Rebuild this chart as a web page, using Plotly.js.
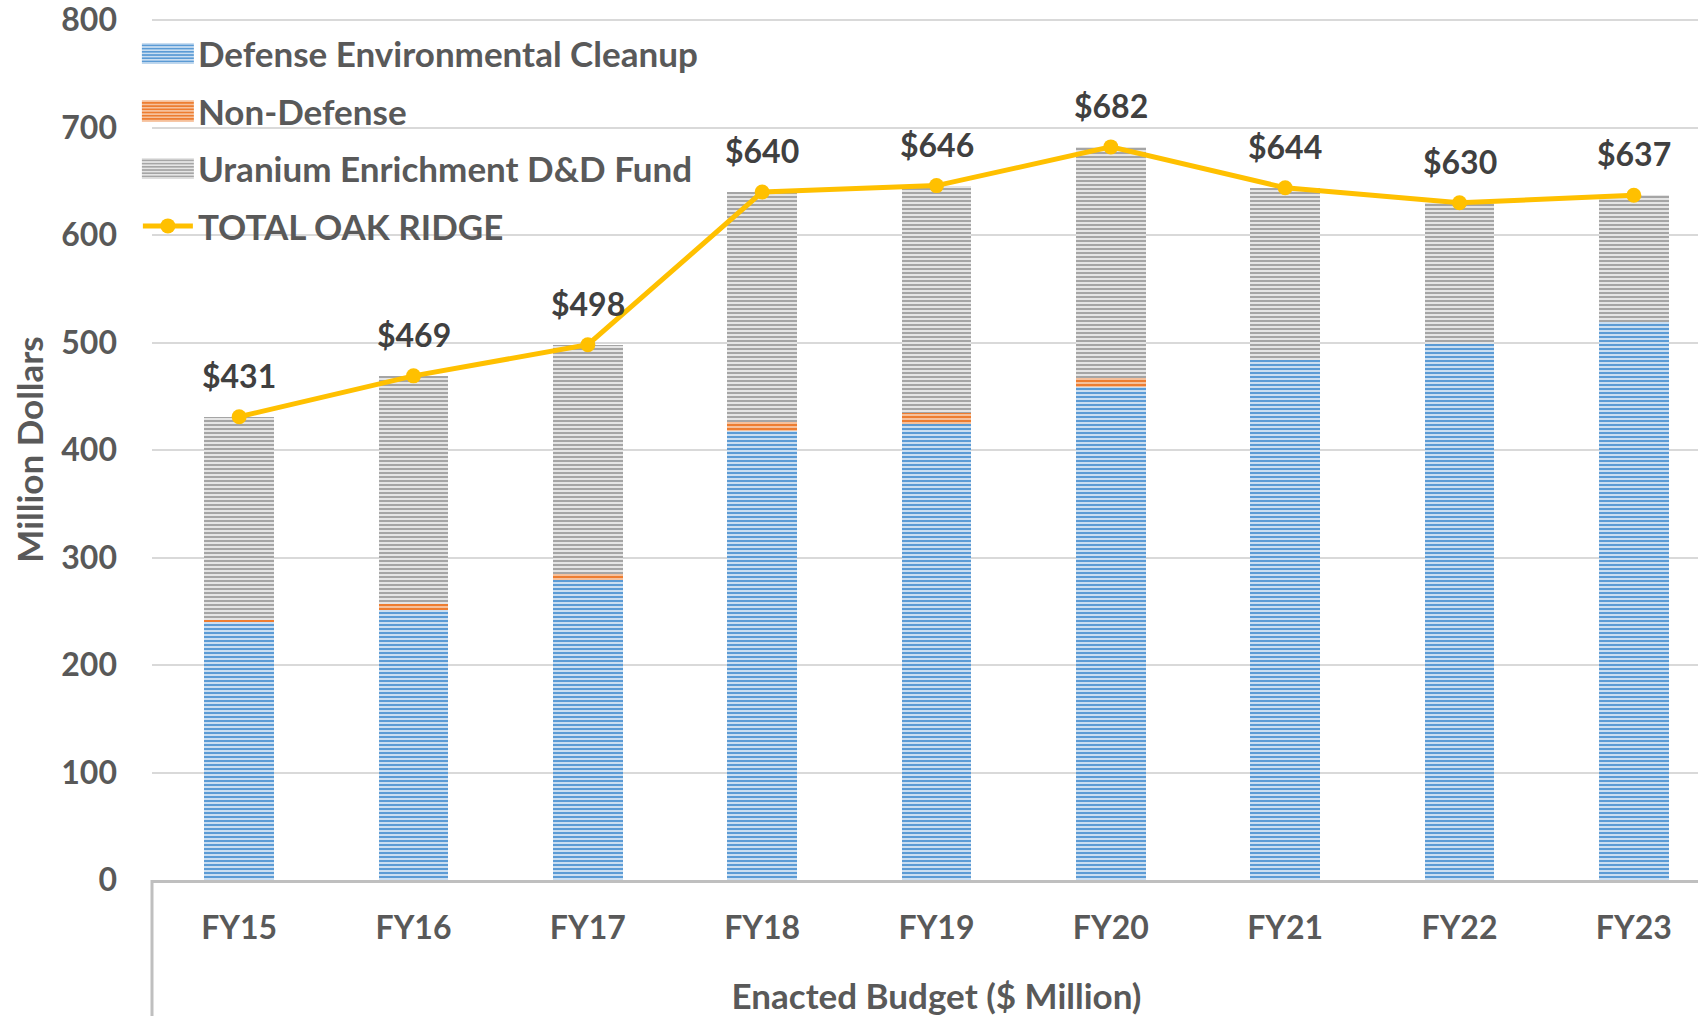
<!DOCTYPE html>
<html>
<head>
<meta charset="utf-8">
<script src="https://cdn.plot.ly/plotly-3.0.1.min.js"></script>
<style>
  html, body { margin: 0; background: #fff; overflow: hidden; }
  #chart { width: 1721px; height: 1016px; }
</style>
</head>
<body>
<div id="chart"></div>
<script>
// Oak Ridge cleanup, enacted budget by fiscal year ($ million)
let years = ["FY15", "FY16", "FY17", "FY18", "FY19", "FY20", "FY21", "FY22", "FY23"];
let defenseCleanup = [240, 251, 279, 418, 424, 459, 484, 499, 519];
let nonDefense = [2, 6, 6, 8, 10, 8, 0, 0, 0];
let uraniumFund = [189, 212, 213, 214, 212, 215, 160, 131, 118];
let totalOakRidge = [431, 469, 498, 640, 646, 682, 644, 630, 637];
let totalLabels = totalOakRidge.map(v => "$" + v);
let yTicks = [0, 100, 200, 300, 400, 500, 600, 700, 800];

let fontFamily = "Lato, 'Open Sans', sans-serif";
let grey = "#595959";

function stripes(fg, bg) {
    return {shape: "-", fgcolor: fg, bgcolor: bg, size: 4, solidity: 0.55, fillmode: "replace"};
}

let traces = [
    {
        type: "bar",
        name: "Defense Environmental Cleanup",
        legendgroup: "a",
        x: years,
        y: defenseCleanup,
        marker: {color: "#5B9BD5", line: {width: 0}, pattern: stripes("#5B9BD5", "#d6e6f5")},
        hoverinfo: "y"
    },
    {
        type: "bar",
        name: "Non-Defense",
        legendgroup: "b",
        x: years,
        y: nonDefense,
        marker: {color: "#ED7D31", line: {width: 0}, pattern: stripes("#ED7D31", "#f8c9a8")},
        hoverinfo: "y"
    },
    {
        type: "bar",
        name: "Uranium Enrichment D&D Fund",
        legendgroup: "c",
        x: years,
        y: uraniumFund,
        marker: {color: "#A5A5A5", line: {width: 0}, pattern: stripes("#A5A5A5", "#ececec")},
        hoverinfo: "y"
    },
    {
        type: "scatter",
        mode: "lines+markers",
        name: "TOTAL OAK RIDGE",
        legendgroup: "d",
        x: years,
        y: totalOakRidge,
        line: {color: "#FFC000", width: 5},
        marker: {color: "#FFC000", size: 15},
        cliponaxis: false
    }
];

// dollar labels above the total line
let labels = years.map((yr, i) => ({
    x: yr,
    y: totalOakRidge[i],
    text: totalLabels[i],
    showarrow: false,
    yanchor: "bottom",
    yshift: 20,
    font: {family: fontFamily, size: 32, weight: 700, color: "#404040"}
}));

// the plot runs a bit past the right edge of the window, like the original
let layout = {
    width: 1721,
    height: 1016,
    margin: {l: 152, r: 0, t: 19, b: 136},
    paper_bgcolor: "#ffffff",
    plot_bgcolor: "#ffffff",
    barmode: "stack",
    bargap: 0.6,
    showlegend: true,
    font: {family: fontFamily, size: 32, weight: 700, color: grey},
    legend: {
        x: -0.009, y: 0.994, xanchor: "left", yanchor: "top",
        bgcolor: "rgba(0,0,0,0)",
        traceorder: "grouped",
        font: {family: fontFamily, size: 35, weight: 700, color: grey},
        itemwidth: 50,
        tracegroupgap: 9
    },
    xaxis: {
        type: "category",
        range: [-0.5, 8.5],
        showline: true,
        linecolor: "#bfbfbf",
        linewidth: 3,
        ticks: "",
        showgrid: false,
        tickfont: {family: fontFamily, size: 32, weight: 700, color: grey},
        ticklabelstandoff: 18,
        title: {
            text: "Enacted Budget ($ Million)",
            font: {family: fontFamily, size: 35, weight: 700, color: grey},
            standoff: 46
        },
        automargin: false
    },
    yaxis: {
        range: [0, 801],
        tickvals: yTicks,
        ticktext: yTicks.map(String),
        ticklabeloverflow: "allow",
        showline: false,
        zeroline: false,
        gridcolor: "#d9d9d9",
        gridwidth: 2,
        tickfont: {family: fontFamily, size: 32, weight: 700, color: grey},
        ticklabelstandoff: 34,
        title: {
            text: "Million Dollars",
            font: {family: fontFamily, size: 35, weight: 700, color: grey},
            standoff: 7
        },
        automargin: false
    },
    annotations: labels,
    shapes: [
        {
            type: "line", xref: "paper", yref: "paper",
            x0: 0, x1: 0, y0: 0, y1: -0.2,
            line: {color: "#bfbfbf", width: 3}
        }
    ]
};

Plotly.newPlot("chart", traces, layout, {displayModeBar: false, staticPlot: true}).then(function (gd) {
    // widen the bar swatches in the legend to look like the original
    gd.querySelectorAll(".legend .legendpoints path").forEach(function (p) {
        if (p.getAttribute("d") === "M6,6H-6V-6H6Z") {
            p.setAttribute("d", "M26,10.5H-26V-10.5H26Z");
        }
    });
});
</script>
</body>
</html>
